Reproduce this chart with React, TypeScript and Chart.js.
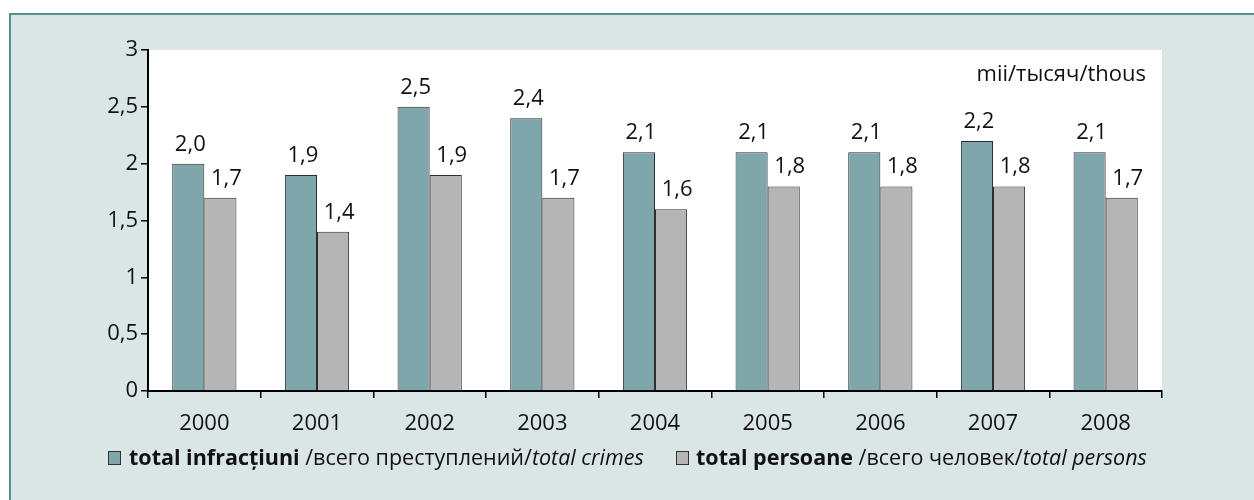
import React, { useEffect, useRef } from "react";
import { Chart, registerables } from "chart.js";

Chart.register(...registerables);

const years = ["2000", "2001", "2002", "2003", "2004", "2005", "2006", "2007", "2008"];
const totalCrimes = [2.0, 1.9, 2.5, 2.4, 2.1, 2.1, 2.1, 2.2, 2.1];
const totalPersons = [1.7, 1.4, 1.9, 1.7, 1.6, 1.8, 1.8, 1.8, 1.7];
const legendCrimes = ["total infracțiuni", " /всего преступлений/", "total crimes"];
const legendPersons = ["total persoane", " /всего человек/", "total persons"];
const unitLabel = "mii/тысяч/thous";

const FONT = "'Open Sans', 'Noto Sans', sans-serif";
const TEAL = "#7fa6aa";
const GRAY = "#b5b5b5";
const FRAME_BG = "#dae5e6";
const FRAME_BORDER = "#4f9195";

const fmt = (v: number) => v.toFixed(1).replace(".", ",");

export default function App() {
  const ref = useRef<HTMLCanvasElement | null>(null);

  useEffect(() => {
    if (!ref.current) return;

    const framePlugin = {
      id: "frame",
      beforeDraw(chart: any) {
        const { ctx, width, height, chartArea } = chart;
        ctx.save();
        ctx.fillStyle = "#ffffff";
        ctx.fillRect(0, 0, width, height);
        ctx.fillStyle = FRAME_BG;
        ctx.fillRect(10, 14, width - 10, height - 14);
        ctx.strokeStyle = FRAME_BORDER;
        ctx.lineWidth = 2;
        ctx.beginPath();
        ctx.moveTo(10, height);
        ctx.lineTo(10, 14);
        ctx.lineTo(width, 14);
        ctx.stroke();
        ctx.fillStyle = "#ffffff";
        ctx.fillRect(chartArea.left, chartArea.top, chartArea.right - chartArea.left, chartArea.bottom - chartArea.top);
        ctx.restore();
      },
    };

    const labelPlugin = {
      id: "valueLabels",
      afterDatasetsDraw(chart: any) {
        const { ctx } = chart;
        ctx.save();
        ctx.font = `22px ${FONT}`;
        ctx.fillStyle = "#111";
        ctx.textAlign = "center";
        ctx.textBaseline = "alphabetic";
        chart.data.datasets.forEach((ds: any, di: number) => {
          const meta = chart.getDatasetMeta(di);
          meta.data.forEach((el: any, i: number) => {
            const dx = di === 0 ? 2 : 6;
            ctx.fillText(fmt(ds.data[i]), el.x + dx, el.y - 13);
          });
        });
        ctx.restore();
      },
    };

    const drawSegments = (ctx: any, parts: string[], x: number, y: number, size: number) => {
      const fonts = [`bold ${size}px ${FONT}`, `${size}px ${FONT}`, `italic ${size}px ${FONT}`];
      let cx = x;
      parts.forEach((p, i) => {
        ctx.font = fonts[i];
        ctx.fillText(p, cx, y);
        cx += ctx.measureText(p).width;
      });
      return cx;
    };

    const legendPlugin = {
      id: "customLegend",
      afterDraw(chart: any) {
        const { ctx } = chart;
        ctx.save();
        ctx.font = `22px ${FONT}`;
        ctx.fillStyle = "#111";
        ctx.textAlign = "right";
        ctx.textBaseline = "alphabetic";
        ctx.fillText(unitLabel, 1146, 81);

        ctx.textAlign = "left";
        const baseY = 465;
        const size = 21.5;
        const drawBox = (x: number, color: string) => {
          ctx.fillStyle = color;
          ctx.fillRect(x, 451, 12, 13);
          ctx.strokeStyle = "#333";
          ctx.lineWidth = 1;
          ctx.strokeRect(x + 0.5, 451.5, 12, 13);
        };
        drawBox(108, TEAL);
        ctx.fillStyle = "#111";
        drawSegments(ctx, legendCrimes, 129, baseY, size);
        drawBox(676, GRAY);
        ctx.fillStyle = "#111";
        drawSegments(ctx, legendPersons, 696, baseY, size);
        ctx.restore();
      },
    };

    const chart = new Chart(ref.current, {
      type: "bar",
      data: {
        labels: years,
        datasets: [
          {
            label: legendCrimes.join(""),
            data: totalCrimes,
            backgroundColor: TEAL,
            borderColor: "#2e2e2e",
            borderWidth: 1,
            categoryPercentage: 0.57,
            barPercentage: 1,
          },
          {
            label: legendPersons.join(""),
            data: totalPersons,
            backgroundColor: GRAY,
            borderColor: "#2e2e2e",
            borderWidth: 1,
            categoryPercentage: 0.57,
            barPercentage: 1,
          },
        ],
      },
      options: {
        responsive: false,
        animation: false,
        devicePixelRatio: 1,
        layout: { padding: { left: 0, top: 50, right: 92, bottom: 0 } },
        plugins: { legend: { display: false }, tooltip: { enabled: false } },
        scales: {
          x: {
            grid: {
              display: true,
              drawOnChartArea: false,
              drawTicks: true,
              tickLength: 7,
              offset: true,
              color: "#000",
              lineWidth: 1.5,
            },
            border: { display: true, color: "#000", width: 2 },
            ticks: { color: "#111", font: { family: FONT, size: 22 }, padding: 13 },
            afterFit(scale: any) {
              scale.height = 109;
            },
          },
          y: {
            min: 0,
            max: 3,
            grid: {
              display: true,
              drawOnChartArea: false,
              drawTicks: true,
              tickLength: 7,
              color: "#000",
              lineWidth: 1.5,
            },
            border: { display: true, color: "#000", width: 2 },
            ticks: {
              stepSize: 0.5,
              color: "#111",
              font: { family: FONT, size: 22 },
              padding: 3,
              callback: (v: any) => String(v).replace(".", ","),
            },
            afterFit(scale: any) {
              scale.width = 148;
            },
          },
        },
      },
      plugins: [framePlugin, labelPlugin, legendPlugin],
    });

    return () => chart.destroy();
  }, []);

  return (
    <div style={{ position: "fixed", left: 0, top: 0, width: 1254, height: 500 }}>
      <canvas ref={ref} width={1254} height={500} style={{ width: 1254, height: 500, display: "block" }} />
    </div>
  );
}
